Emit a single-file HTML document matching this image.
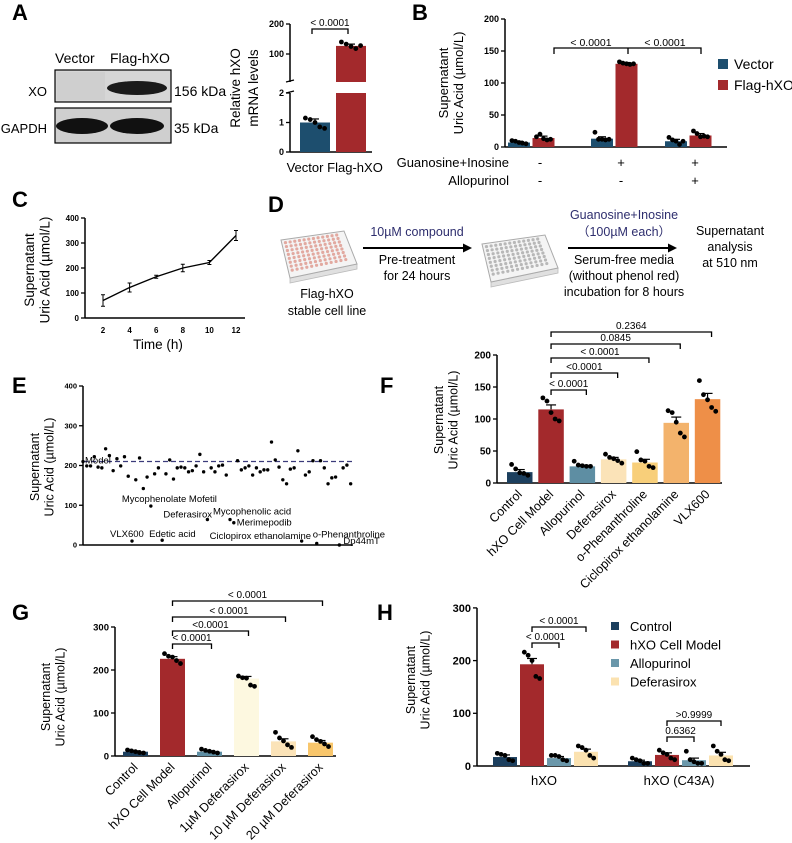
<!DOCTYPE html>
<html><head><meta charset="utf-8">
<style>
html,body{margin:0;padding:0;background:#fff;}
svg{display:block;font-family:"Liberation Sans",Arial,sans-serif;}
</style></head>
<body>
<svg id="fig" width="792" height="843" viewBox="0 0 792 843" xmlns="http://www.w3.org/2000/svg">
  <g font-weight="bold" font-size="22" fill="#000">
    <text x="12" y="20">A</text>
    <text x="412" y="20">B</text>
    <text x="12" y="207">C</text>
    <text x="268" y="212">D</text>
    <text x="12" y="393">E</text>
    <text x="380" y="393">F</text>
    <text x="12" y="620">G</text>
    <text x="377" y="620">H</text>
  </g>

  <g font-size="14">
    <text x="55" y="63">Vector</text>
    <text x="110" y="63">Flag-hXO</text>
    <rect x="55" y="70" width="116" height="32" fill="#d6d6d6" stroke="#000" stroke-width="1.2"/>
    <rect x="57" y="72" width="48" height="28" fill="#cfcfcf"/>
    <ellipse cx="137" cy="88" rx="30" ry="7" fill="#1a1a1a"/>
    <rect x="55" y="108" width="116" height="35" fill="#cfcfcf" stroke="#000" stroke-width="1.2"/>
    <ellipse cx="82" cy="126" rx="26" ry="8" fill="#111"/>
    <ellipse cx="137" cy="126" rx="27" ry="8" fill="#111"/>
    <text x="47" y="96" text-anchor="end" font-size="13">XO</text>
    <text x="47" y="133" text-anchor="end" font-size="13">GAPDH</text>
    <text x="174" y="96">156 kDa</text>
    <text x="174" y="133">35 kDa</text>
  </g>

  <g font-size="12.5">
    <g id="plate1"></g>
    <g id="plate2"></g>
    <text x="327" y="298" text-anchor="middle">Flag-hXO</text>
    <text x="327" y="315" text-anchor="middle">stable cell line</text>
    <text x="417" y="236" text-anchor="middle" fill="#2e2e6e">10µM compound</text>
    <line x1="363" y1="248" x2="466" y2="248" stroke="#000" stroke-width="2"/>
    <polygon points="472,248 463,243.5 463,252.5" fill="#000"/>
    <text x="417" y="264" text-anchor="middle">Pre-treatment</text>
    <text x="417" y="280" text-anchor="middle">for 24 hours</text>
    <text x="624" y="219" text-anchor="middle" fill="#2e2e6e">Guanosine+Inosine</text>
    <text x="624" y="236" text-anchor="middle" fill="#2e2e6e" font-family="'Liberation Sans','Noto Sans CJK SC',sans-serif">（100µM each）</text>
    <line x1="568" y1="248" x2="671" y2="248" stroke="#000" stroke-width="2"/>
    <polygon points="677,248 668,243.5 668,252.5" fill="#000"/>
    <text x="624" y="264" text-anchor="middle">Serum-free media</text>
    <text x="624" y="280" text-anchor="middle">(without phenol red)</text>
    <text x="624" y="296" text-anchor="middle">incubation for 8 hours</text>
    <text x="730" y="235" text-anchor="middle">Supernatant</text>
    <text x="730" y="251" text-anchor="middle">analysis</text>
    <text x="730" y="267" text-anchor="middle">at 510 nm</text>
  </g>

  <g id="charts"></g>
</svg>

<script>
// ---------- DATA ----------
var aCats = ["Vector", "Flag-hXO"];
var aVals = [1.0, 127];
var aReps = [[1.15, 1.1, 1.0, 0.85, 0.8], [140, 133, 125, 118, 128]];
var bGroups = ["-/-", "+/-", "+/+"];
var bSeries = ["Vector", "Flag-hXO"];
var bVector = [7, 13, 9];
var bFlag = [14, 130, 18];
var bVectorErr = [2, 3, 3];
var bFlagErr = [3, 2, 3];
var bVectorReps = [[10, 9, 7, 6, 5], [23, 12, 12, 11, 12], [15, 11, 9, 4, 9]];
var bFlagReps = [[16, 20, 13, 11, 12], [133, 131, 130, 129, 130], [25, 21, 16, 17, 16]];
var bTicks = [0, 50, 100, 150, 200];
var bGuanosine = ["-", "+", "+"];
var bAllopurinol = ["-", "-", "+"];
var cTimes = [2, 4, 6, 8, 10, 12];
var cVals = [70, 122, 165, 200, 222, 330];
var cErr = [23, 18, 6, 15, 8, 20];
var cTicks = [0, 100, 200, 300, 400];
var eVals = [210,199,199,222,196,194,242,225,187,217,199,222,173,10,164,219,142,171,98,179,194,12,179,214,166,194,196,194,184,187,199,228,184,64,194,184,199,201,176,64,56,212,189,194,199,176,194,184,189,189,259,214,196,164,154,191,194,237,10,176,184,212,4,212,194,154,169,171,0,194,201,154];
var eLabelIdx = [13, 18, 21, 33, 39, 40, 58, 62, 68];
var eLabelNames = ["VLX600", "Mycophenolate Mofetil", "Edetic acid", "Deferasirox", "Mycophenolic acid", "Merimepodib", "Ciclopirox ethanolamine", "o-Phenanthroline", "Dp44mT"];
var eModel = 210;
var eTicks = [0, 100, 200, 300, 400];
var fCats = ["Control", "hXO Cell Model", "Allopurinol", "Deferasirox", "o-Phenanthroline", "Ciclopirox ethanolamine", "VLX600"];
var fVals = [17, 115, 26, 37, 32, 94, 131];
var fErr = [4, 7, 2, 3, 5, 9, 9];
var fReps = [[29,22,16,15,12],[133,128,110,100,97],[34,28,27,26,26],[45,40,38,35,31],[49,36,34,26,24],[113,110,95,78,72],[160,138,130,118,112]];
var fTicks = [0, 50, 100, 150, 200];
var fPvals = ["< 0.0001", "<0.0001", "< 0.0001", "0.0845", "0.2364"];
var gCats = ["Control", "hXO Cell Model", "Allopurinol", "1µM Deferasirox", "10 µM Deferasirox", "20 µM Deferasirox"];
var gVals = [10, 226, 10, 180, 34, 31];
var gErr = [2, 5, 2, 5, 6, 5];
var gReps = [[14,12,10,8,7],[238,232,230,222,215],[16,13,11,9,7],[186,182,181,165,162],[55,42,35,26,20],[45,38,34,28,22]];
var gTicks = [0, 100, 200, 300];
var gPvals = ["< 0.0001", "<0.0001", "< 0.0001", "< 0.0001"];
var hGroups = ["hXO", "hXO (C43A)"];
var hSeries = ["Control", "hXO Cell Model", "Allopurinol", "Deferasirox"];
var hControl = [17, 9];
var hModel = [193, 21];
var hAllo = [15, 11];
var hDefer = [27, 20];
var hErr = [[4, 11, 3, 5], [2, 4, 4, 6]];
var hReps = [[[24,22,20,12,10],[216,210,200,170,166],[20,20,18,12,10],[38,35,30,20,15]],
             [[15,12,10,5,5],[30,25,22,15,12],[28,12,8,5,5],[38,28,22,12,10]]];
var hTicks = [0, 100, 200, 300];
var hPvals = ["< 0.0001", "< 0.0001", "0.6362", ">0.9999"];

// ---------- HELPERS ----------
var NS = "http://www.w3.org/2000/svg";
var root = document.getElementById("charts");
function mk(tag, attrs, parent) {
  var e = document.createElementNS(NS, tag);
  for (var k in attrs) e.setAttribute(k, attrs[k]);
  (parent || root).appendChild(e);
  return e;
}
function nm(e, name) {
  
  
  return e;
}
function txt(x, y, s, attrs, parent, name) {
  var a = attrs || {};
  a.x = x; a.y = y;
  var t = mk("text", a, parent);
  t.textContent = s;
  
  
  return t;
}
function line(x1, y1, x2, y2, w, parent, name, extra) {
  var a = {x1: x1, y1: y1, x2: x2, y2: y2, stroke: "#000", "stroke-width": w};
  for (var k in (extra || {})) a[k] = extra[k];
  var l = mk("line", a, parent);
  
  
  return l;
}
function yAxis(g, x, scale, ticks, fs, prefix) {
  line(x, scale(ticks[ticks.length - 1]), x, scale(0), 1.5, g, prefix + "-y-axis");
  ticks.forEach(function (t) {
    line(x - 4, scale(t), x, scale(t), 1.3, g, prefix + "-y-tick");
    txt(x - 6, scale(t) + fs * 0.35, String(t), {"font-size": fs, "font-weight": "bold", "text-anchor": "end"}, g, prefix + "-y-tick-label");
  });
}
function yTitle(g, x, cy, lines, fs, prefix) {
  lines.forEach(function (s, i) {
    txt(x + i * (fs + 2), cy, s, {"font-size": fs, "text-anchor": "middle", transform: "rotate(-90 " + (x + i * (fs + 2)) + " " + cy + ")"}, g, prefix + "-y-title");
  });
}
function bar(g, x0, w, yv, y0, color, name) {
  var r = mk("rect", {x: x0, y: Math.min(yv, y0), width: w, height: Math.abs(y0 - yv), fill: color}, g);
  
  
  return r;
}
function errBar(g, cx, yTop, yMid, half, name) {
  line(cx, yMid, cx, yTop, 1.2, g, name);
  line(cx - half, yTop, cx + half, yTop, 1.2, g, name + "-cap");
}
var jit = [-0.32, -0.16, 0, 0.16, 0.32];
function dots(g, cx, w, reps, scale, name) {
  reps.forEach(function (v, i) {
    var c = mk("circle", {cx: cx + jit[i] * w, cy: scale(v), r: 2.4, fill: "#000"}, g);
    
    
  });
}
function bracket(g, x1, x2, y, label, fs, name) {
  var p = mk("path", {d: "M" + x1 + " " + (y + 5) + "V" + y + "H" + x2 + "V" + (y + 5), fill: "none", stroke: "#000", "stroke-width": 1.3}, g);
  
  
  txt((x1 + x2) / 2, y - 3, label, {"font-size": fs, "text-anchor": "middle"}, g, name + "-label");
}

// ---------- PANEL A chart ----------
(function () {
  var g = nm(mk("g", {}), "panel-a-mrna-chart");
  var ax = 290;
  var lowS = function (v) { return 152 - v * 29.5; };
  var upS = function (v) { return 54 - (v - 100) * 0.3; };
  line(ax, 24, ax, 82, 1.5, g, "a-y-axis-upper");
  line(ax, 93, ax, 152, 1.5, g, "a-y-axis-lower");
  line(ax - 4, 82, ax + 4, 80, 1.3, g, "a-axis-break");
  line(ax - 4, 93, ax + 4, 91, 1.3, g, "a-axis-break");
  [[200, upS(200)], [100, upS(100)], [2, lowS(2)], [1, lowS(1)], [0, lowS(0)]].forEach(function (t) {
    line(ax - 4, t[1], ax, t[1], 1.3, g, "a-y-tick");
    txt(ax - 6, t[1] + 3, String(t[0]), {"font-size": 9, "font-weight": "bold", "text-anchor": "end"}, g, "a-y-tick-label");
  });
  line(ax, 152, 372, 152, 1.5, g, "a-x-axis");
  var cols = ["#1d4e6e", "#a3292c"];
  var xs = [300, 336];
  bar(g, xs[0], 30, lowS(aVals[0]), 152, cols[0], "a-bar-vector");
  errBar(g, xs[0] + 15, lowS(aVals[0] + 0.12), lowS(aVals[0]), 4, "a-err-vector");
  dots(g, xs[0] + 15, 30, aReps[0], lowS, "a-dot-vector");
  bar(g, xs[1], 30, lowS(2), 152, cols[1], "a-bar-flag-lower");
  bar(g, xs[1], 30, upS(aVals[1]), 82, cols[1], "a-bar-flag-upper");
  errBar(g, xs[1] + 15, upS(aVals[1] + 6), upS(aVals[1]), 4, "a-err-flag");
  dots(g, xs[1] + 15, 30, aReps[1], upS, "a-dot-flag");
  bracket(g, 312, 348, 29, "< 0.0001", 10, "a-significance");
  txt(305, 172, aCats[0], {"font-size": 13, "text-anchor": "middle"}, g, "a-x-label");
  txt(355, 172, aCats[1], {"font-size": 13, "text-anchor": "middle"}, g, "a-x-label");
  txt(240, 88, "Relative hXO", {"font-size": 13.5, "text-anchor": "middle", transform: "rotate(-90 240 88)"}, g, "a-y-title");
  txt(258, 88, "mRNA levels", {"font-size": 13.5, "text-anchor": "middle", transform: "rotate(-90 258 88)"}, g, "a-y-title");
})();

// ---------- PANEL B ----------
(function () {
  var g = nm(mk("g", {}), "panel-b-chart");
  var ax = 505, y0 = 147;
  var s = function (v) { return y0 - v * 0.64; };
  yAxis(g, ax, s, bTicks, 9, "b");
  line(ax, y0, 727, y0, 1.5, g, "b-x-axis");
  var gx = [508, 591, 665];
  var cols = ["#1d4e6e", "#a3292c"];
  bGroups.forEach(function (gr, i) {
    var xv = gx[i], xf = gx[i] + 24.5;
    bar(g, xv, 22, s(bVector[i]), y0, cols[0], "b-bar-vector");
    errBar(g, xv + 11, s(bVector[i] + bVectorErr[i]), s(bVector[i]), 4, "b-err-vector");
    dots(g, xv + 11, 22, bVectorReps[i], s, "b-dot-vector");
    bar(g, xf, 22, s(bFlag[i]), y0, cols[1], "b-bar-flag");
    errBar(g, xf + 11, s(bFlag[i] + bFlagErr[i]), s(bFlag[i]), 4, "b-err-flag");
    dots(g, xf + 11, 22, bFlagReps[i], s, "b-dot-flag");
    var cx = gx[i] + 30;
    txt(cx + (i == 0 ? 2 : 0), 167, bGuanosine[i], {"font-size": 13, "text-anchor": "middle"}, g, "b-guanosine-sign");
    txt(cx + (i == 0 ? 2 : 0), 185, bAllopurinol[i], {"font-size": 13, "text-anchor": "middle"}, g, "b-allopurinol-sign");
  });
  var p = mk("path", {d: "M554 54V48H701V54M628 48V54", fill: "none", stroke: "#000", "stroke-width": 1.3}, g);
  
  
  txt(591, 46, "< 0.0001", {"font-size": 10.5, "text-anchor": "middle"}, g, "b-pvalue");
  txt(665, 46, "< 0.0001", {"font-size": 10.5, "text-anchor": "middle"}, g, "b-pvalue");
  txt(509, 167, "Guanosine+Inosine", {"font-size": 13, "text-anchor": "end"}, g, "b-guanosine-row-label");
  txt(509, 185, "Allopurinol", {"font-size": 13, "text-anchor": "end"}, g, "b-allopurinol-row-label");
  yTitle(g, 448, 83, ["Supernatant", "Uric Acid (µmol/L)"], 13, "b");
  bSeries.forEach(function (sr, i) {
    var r = mk("rect", {x: 718, y: 59 + i * 21, width: 10, height: 10, fill: cols[i]}, g);
    
    
    txt(734, 69 + i * 21, sr, {"font-size": 14}, g, "b-legend-entry");
  });
})();

// ---------- PANEL C ----------
(function () {
  var g = nm(mk("g", {}), "panel-c-chart");
  var ax = 85, y0 = 318;
  var s = function (v) { return y0 - v * 0.25; };
  var xs = function (t) { return 103 + (t - 2) * 13.3; };
  yAxis(g, ax, s, cTicks, 8, "c");
  line(ax, y0, 245, y0, 1.5, g, "c-x-axis");
  cTimes.forEach(function (t) {
    txt(xs(t), y0 + 15, String(t), {"font-size": 8, "font-weight": "bold", "text-anchor": "middle"}, g, "c-x-tick-label");
  });
  var d = cTimes.map(function (t, i) { return (i ? "L" : "M") + xs(t) + " " + s(cVals[i]); }).join("");
  var p = mk("path", {d: d, fill: "none", stroke: "#000", "stroke-width": 1.4}, g);
  
  
  cTimes.forEach(function (t, i) {
    line(xs(t), s(cVals[i] - cErr[i]), xs(t), s(cVals[i] + cErr[i]), 1, g, "c-error-bar");
    line(xs(t) - 2, s(cVals[i] + cErr[i]), xs(t) + 2, s(cVals[i] + cErr[i]), 1, g, "c-error-cap");
    line(xs(t) - 2, s(cVals[i] - cErr[i]), xs(t) + 2, s(cVals[i] - cErr[i]), 1, g, "c-error-cap");
  });
  txt(158, 349, "Time (h)", {"font-size": 13.5, "text-anchor": "middle"}, g, "c-x-title");
  yTitle(g, 34, 270, ["Supernatant", "Uric Acid (µmol/L)"], 13.5, "c");
})();

// ---------- PANEL D plates ----------
(function () {
  function plate(gid, dx, dy, dotCol) {
    var g = document.getElementById(gid);
    var P = [[281 + dx, 240 + dy], [344 + dx, 231 + dy], [357 + dx, 264 + dy], [290 + dx, 278 + dy]];
    var side = mk("polygon", {points: [[P[3][0], P[3][1]], [P[2][0], P[2][1]], [P[2][0], P[2][1] + 5], [P[3][0], P[3][1] + 5]].map(function (p) { return p.join(","); }).join(" "), fill: "#e0e0e0", stroke: "#bbb", "stroke-width": 0.8}, g);
    
    
    var top = mk("polygon", {points: P.map(function (p) { return p.join(","); }).join(" "), fill: "#f4f4f4", stroke: "#aaa", "stroke-width": 1}, g);
    
    
    for (var r = 0; r < 8; r++) for (var c = 0; c < 12; c++) {
      var u = (c + 0.8) / 13.6, v = (r + 0.8) / 9.6;
      var x = (1 - u) * (1 - v) * P[0][0] + u * (1 - v) * P[1][0] + u * v * P[2][0] + (1 - u) * v * P[3][0];
      var y = (1 - u) * (1 - v) * P[0][1] + u * (1 - v) * P[1][1] + u * v * P[2][1] + (1 - u) * v * P[3][1];
      var w = mk("circle", {cx: x, cy: y, r: 1.6, fill: dotCol}, g);
      
      
    }
  }
  plate("plate1", 0, 0, "#e2a9a0");
  plate("plate2", 201, 4, "#b8b8b8");
})();

// ---------- PANEL E ----------
(function () {
  var g = nm(mk("g", {}), "panel-e-screen-chart");
  var ax = 83, y0 = 545;
  var s = function (v) { return y0 - v * 0.3975; };
  var xs = function (i) { return 83 + i * 3.77; };
  yAxis(g, ax, s, eTicks, 7.5, "e");
  line(ax, y0, 353, y0, 1.5, g, "e-x-axis");
  line(ax, s(eModel), 353, s(eModel), 1.2, g, "e-model-line", {stroke: "#3b3b7a", "stroke-dasharray": "5,3"});
  txt(85, s(eModel) + 2, "Model", {"font-size": 9.5}, g, "e-model-label");
  eVals.forEach(function (v, i) {
    var c = mk("circle", {cx: xs(i), cy: s(v), r: 1.7, fill: "#000"}, g);
    
    
  });
  var off = [[-22, -4], [-29, -4], [-13, -3], [-44, -2], [-17, -5], [3, 3], [-92, -2], [-4, -6], [4, -1]];
  eLabelIdx.forEach(function (idx, k) {
    txt(xs(idx) + off[k][0], s(eVals[idx]) + off[k][1], eLabelNames[k], {"font-size": 9.5}, g, "e-compound-label");
  });
  yTitle(g, 39, 467, ["Supernatant", "Uric Acid (µmol/L)"], 12.5, "e");
})();

function rotLabels(g, cats, xc, y, fs, prefix) {
  cats.forEach(function (c, i) {
    txt(xc(i) + 3, y, c, {"font-size": fs, "text-anchor": "end", transform: "rotate(-45 " + (xc(i) + 3) + " " + y + ")"}, g, prefix + "-x-label");
  });
}

// ---------- PANEL F ----------
(function () {
  var g = nm(mk("g", {}), "panel-f-chart");
  var ax = 497, y0 = 483;
  var s = function (v) { return y0 - v * 0.64; };
  var bw = 25.5, step = 31.3, x0 = 507;
  var xl = function (i) { return x0 + i * step; };
  var xc = function (i) { return xl(i) + bw / 2; };
  var cols = ["#1c3f5e", "#a3292c", "#5e8ea3", "#fbe3b8", "#f8cf7a", "#f3b36c", "#ee8f48"];
  yAxis(g, ax, s, fTicks, 10, "f");
  line(ax, y0, 722, y0, 1.5, g, "f-x-axis");
  fCats.forEach(function (c, i) {
    bar(g, xl(i), bw, s(fVals[i]), y0, cols[i], "f-bar");
    errBar(g, xc(i), s(fVals[i] + fErr[i]), s(fVals[i]), 5, "f-err");
    dots(g, xc(i), bw, fReps[i], s, "f-dot");
  });
  var targets = [2, 3, 4, 5, 6];
  var ys = [390, 373, 358, 344, 332];
  targets.forEach(function (t, k) {
    bracket(g, xc(1), xc(t) + 4, ys[k], fPvals[k], 10, "f-significance");
  });
  rotLabels(g, fCats, xc, 495, 12.5, "f");
  yTitle(g, 443, 420, ["Supernatant", "Uric Acid (µmol/L)"], 12.5, "f");
})();

// ---------- PANEL G ----------
(function () {
  var g = nm(mk("g", {}), "panel-g-chart");
  var ax = 115, y0 = 756;
  var s = function (v) { return y0 - v * 0.43; };
  var bw = 25, step = 37, x0 = 123;
  var xl = function (i) { return x0 + i * step; };
  var xc = function (i) { return xl(i) + bw / 2; };
  var cols = ["#1c3f5e", "#a3292c", "#5e8ea3", "#fdf8e0", "#fbe3b8", "#f8c66c"];
  yAxis(g, ax, s, gTicks, 9.5, "g");
  line(ax, y0, 336, y0, 1.5, g, "g-x-axis");
  gCats.forEach(function (c, i) {
    bar(g, xl(i), bw, s(gVals[i]), y0, cols[i], "g-bar");
    errBar(g, xc(i), s(gVals[i] + gErr[i]), s(gVals[i]), 5, "g-err");
    dots(g, xc(i), bw, gReps[i], s, "g-dot");
  });
  var targets = [2, 3, 4, 5];
  var ys = [644, 631, 617, 601];
  targets.forEach(function (t, k) {
    bracket(g, xc(1), xc(t) + 2, ys[k], gPvals[k], 10, "g-significance");
  });
  rotLabels(g, gCats, xc, 768, 12.5, "g");
  yTitle(g, 50, 697, ["Supernatant", "Uric Acid (µmol/L)"], 12.5, "g");
})();

// ---------- PANEL H ----------
(function () {
  var g = nm(mk("g", {}), "panel-h-chart");
  var ax = 477, y0 = 766;
  var s = function (v) { return y0 - v * 0.527; };
  var bw = 24, step = 27, gx = [493, 628];
  var cols = ["#1c3f5e", "#a3292c", "#6a97aa", "#fbe2b0"];
  var series = [hControl, hModel, hAllo, hDefer];
  yAxis(g, ax, s, hTicks, 11, "h");
  line(ax, y0, 750, y0, 1.5, g, "h-x-axis");
  hGroups.forEach(function (gr, gi) {
    series.forEach(function (sv, si) {
      var x = gx[gi] + si * step, cx = x + bw / 2;
      bar(g, x, bw, s(sv[gi]), y0, cols[si], "h-bar");
      errBar(g, cx, s(sv[gi] + hErr[gi][si]), s(sv[gi]), 5, "h-err");
      dots(g, cx, bw, hReps[gi][si], s, "h-dot");
    });
    txt(gx[gi] + 2 * step - 3, 785, gr, {"font-size": 13, "text-anchor": "middle"}, g, "h-group-label");
  });
  var c = function (gi, si) { return gx[gi] + si * step + bw / 2; };
  bracket(g, c(0, 1), c(0, 3), 627, hPvals[0], 10, "h-significance");
  bracket(g, c(0, 1), c(0, 2), 643, hPvals[1], 10, "h-significance");
  bracket(g, c(1, 1), c(1, 2), 737, hPvals[2], 10, "h-significance");
  bracket(g, c(1, 1), c(1, 3), 721, hPvals[3], 10, "h-significance");
  hSeries.forEach(function (sr, i) {
    var r = mk("rect", {x: 611, y: 622 + i * 18.5, width: 8, height: 8, fill: cols[i]}, g);
    
    
    txt(630, 631 + i * 18.5, sr, {"font-size": 13}, g, "h-legend-entry");
  });
  yTitle(g, 415, 680, ["Supernatant", "Uric Acid (µmol/L)"], 12.5, "h");
})();
</script>
</body></html>
